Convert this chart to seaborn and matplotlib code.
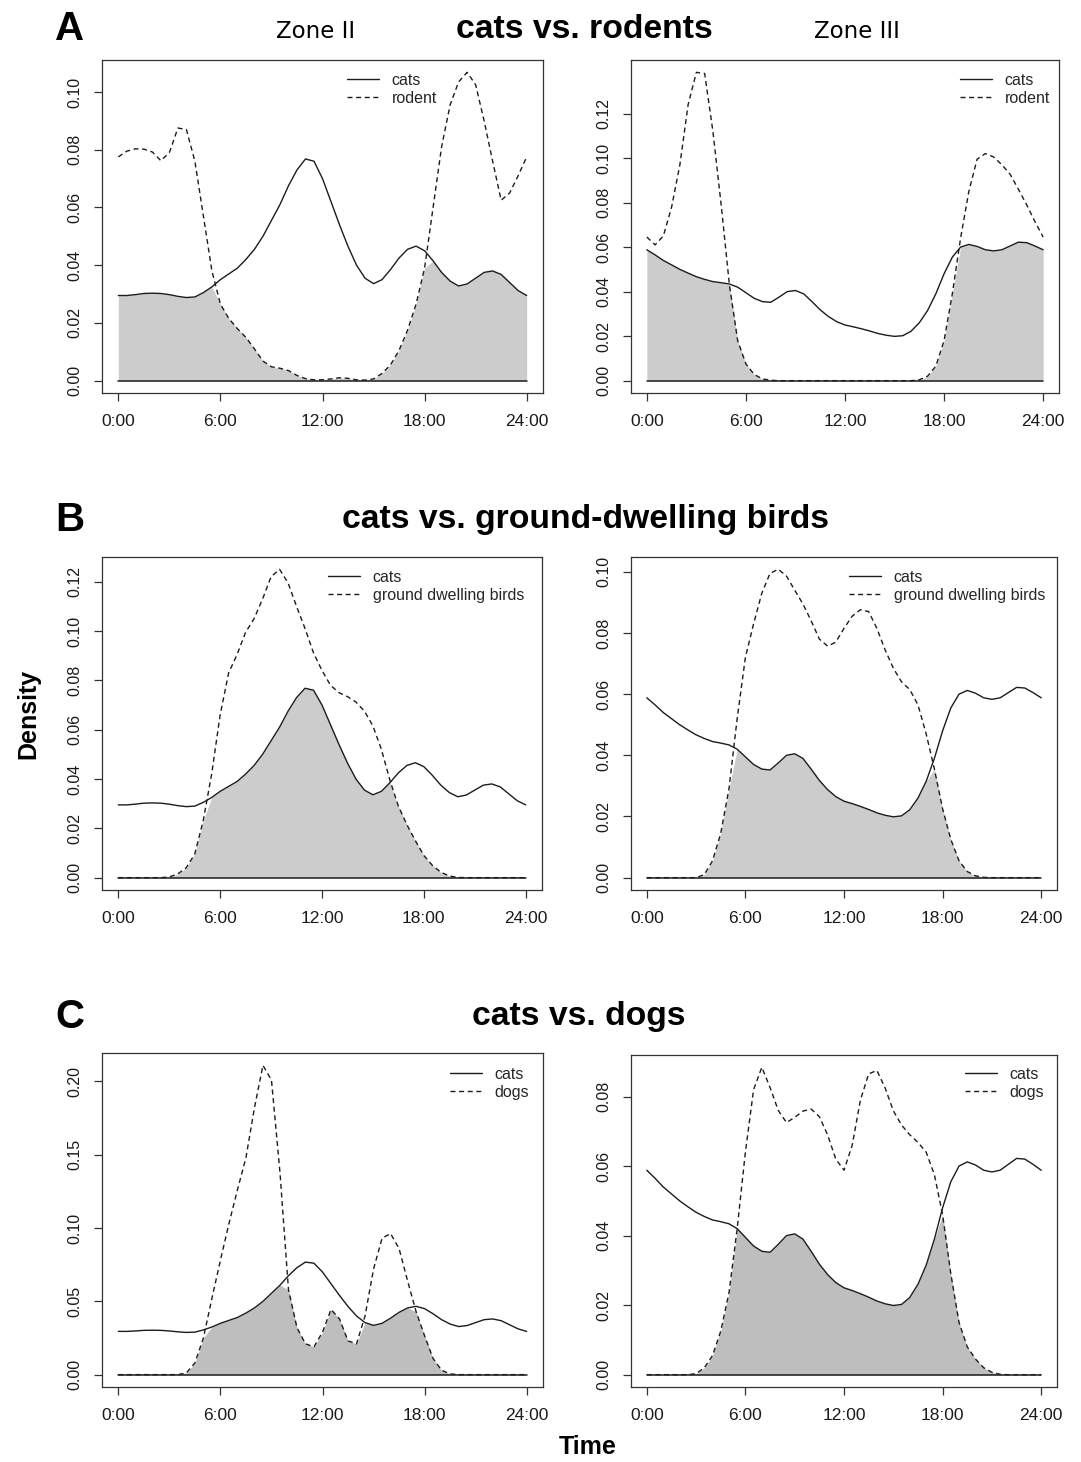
import matplotlib
matplotlib.use("Agg")
import matplotlib.pyplot as plt
import numpy as np
import pandas as pd
import seaborn as sns

W, H = 1081, 1462

# time grid (half-hour steps) and axis labels
hours = np.arange(0, 24.5, 0.5)
hour_ticks = [0, 6, 12, 18, 24]
hour_labels = ["0:00", "6:00", "12:00", "18:00", "24:00"]

# densities, one value per half hour (0:00 .. 24:00)
cats_z2 = [0.0295, 0.0295, 0.0298, 0.0302, 0.0303, 0.0302, 0.0298, 0.0292, 0.0288, 0.0290, 0.0305, 0.0325,
           0.0350, 0.0370, 0.0390, 0.0420, 0.0455, 0.0500, 0.0555, 0.0610, 0.0675, 0.0730, 0.0768, 0.0760,
           0.0700, 0.0620, 0.0540, 0.0465, 0.0400, 0.0355, 0.0336, 0.0350, 0.0385, 0.0425, 0.0455, 0.0466,
           0.0450, 0.0415, 0.0375, 0.0345, 0.0328, 0.0335, 0.0355, 0.0375, 0.0380, 0.0368, 0.0340, 0.0312,
           0.0295]
cats_z3 = [0.0588, 0.0565, 0.0540, 0.0520, 0.0500, 0.0483, 0.0467, 0.0455, 0.0445, 0.0440, 0.0434, 0.0420,
           0.0395, 0.0370, 0.0355, 0.0352, 0.0375, 0.0400, 0.0405, 0.0390, 0.0355, 0.0318, 0.0288, 0.0265,
           0.0250, 0.0242, 0.0233, 0.0223, 0.0212, 0.0204, 0.0199, 0.0202, 0.0222, 0.0260, 0.0315, 0.0390,
           0.0480, 0.0555, 0.0600, 0.0612, 0.0603, 0.0588, 0.0583, 0.0588, 0.0605, 0.0622, 0.0620, 0.0605,
           0.0588]
rodent_z2 = [0.0775, 0.0795, 0.0803, 0.0802, 0.0792, 0.0762, 0.0790, 0.0875, 0.0870, 0.0760, 0.0570, 0.0380,
             0.0265, 0.0215, 0.0180, 0.0150, 0.0110, 0.0068, 0.0048, 0.0043, 0.0035, 0.0018, 0.0007, 0.0003,
             0.0003, 0.0006, 0.0010, 0.0008, 0.0003, 0.0002, 0.0006, 0.0025, 0.0055, 0.0105, 0.0175, 0.0265,
             0.0390, 0.0600, 0.0810, 0.0955, 0.1035, 0.1068, 0.1025, 0.0900, 0.0760, 0.0625, 0.0650, 0.0710,
             0.0775]
rodent_z3 = [0.0645, 0.0610, 0.0650, 0.0780, 0.0970, 0.1240, 0.1385, 0.1380, 0.1120, 0.0790, 0.0430, 0.0180,
             0.0075, 0.0028, 0.0008, 0.0002, 0.0, 0.0, 0.0, 0.0, 0.0, 0.0, 0.0, 0.0,
             0.0, 0.0, 0.0, 0.0, 0.0, 0.0, 0.0, 0.0, 0.0, 0.0004, 0.0020, 0.0065,
             0.0180, 0.0390, 0.0640, 0.0850, 0.0995, 0.1020, 0.1005, 0.0970, 0.0927, 0.0860, 0.0790, 0.0715,
             0.0645]
birds_z2 = [0.0, 0.0, 0.0, 0.0, 0.0, 0.0, 0.0003, 0.0015, 0.0040, 0.0095, 0.0230, 0.0420,
            0.0660, 0.0830, 0.0905, 0.0995, 0.1050, 0.1130, 0.1220, 0.1250, 0.1195, 0.1100, 0.1010, 0.0911,
            0.0840, 0.0780, 0.0750, 0.0734, 0.0712, 0.0675, 0.0615, 0.0520, 0.0395, 0.0290, 0.0215, 0.0150,
            0.0090, 0.0050, 0.0022, 0.0007, 0.0001, 0.0, 0.0, 0.0, 0.0, 0.0, 0.0, 0.0,
            0.0]
birds_z3 = [0.0, 0.0, 0.0, 0.0, 0.0, 0.0, 0.0, 0.0010, 0.0055, 0.0145, 0.0290, 0.0520,
            0.0720, 0.0830, 0.0930, 0.0995, 0.1008, 0.0986, 0.0940, 0.0895, 0.0840, 0.0780, 0.0757, 0.0770,
            0.0815, 0.0855, 0.0876, 0.0870, 0.0815, 0.0745, 0.0685, 0.0640, 0.0615, 0.0565, 0.0470, 0.0355,
            0.0225, 0.0125, 0.0055, 0.0020, 0.0006, 0.0001, 0.0, 0.0, 0.0, 0.0, 0.0, 0.0,
            0.0]
dogs_z2 = [0.0, 0.0, 0.0, 0.0, 0.0, 0.0, 0.0, 0.0, 0.0012, 0.0080, 0.0250, 0.0520,
           0.0780, 0.1030, 0.1260, 0.1480, 0.1820, 0.2110, 0.2010, 0.1380, 0.0580, 0.0320, 0.0210, 0.0190,
           0.0290, 0.0445, 0.0380, 0.0230, 0.0210, 0.0400, 0.0720, 0.0930, 0.0963, 0.0860, 0.0640, 0.0430,
           0.0265, 0.0110, 0.0030, 0.0005, 0.0, 0.0, 0.0, 0.0, 0.0, 0.0, 0.0, 0.0,
           0.0]
dogs_z3 = [0.0, 0.0, 0.0, 0.0, 0.0, 0.0, 0.0003, 0.0020, 0.0055, 0.0125, 0.0235, 0.0420,
           0.0640, 0.0820, 0.0884, 0.0826, 0.0760, 0.0725, 0.0740, 0.0758, 0.0764, 0.0742, 0.0690, 0.0620,
           0.0588, 0.0660, 0.0790, 0.0865, 0.0875, 0.0825, 0.0759, 0.0718, 0.0690, 0.0668, 0.0640, 0.0575,
           0.0460, 0.0290, 0.0150, 0.0080, 0.0045, 0.0020, 0.0007, 0.0001, 0.0, 0.0, 0.0, 0.0,
           0.0]

LINE = "#1c1c1c"
FONT = ["Liberation Sans", "DejaVu Sans"]

sns.set_style("ticks")
plt.rcParams["font.family"] = FONT


def px_rect(x0, y0, x1, y1):
    return [x0 / W, 1 - y1 / H, (x1 - x0) / W, (y1 - y0) / H]


def draw_panel(ax, cats, other, other_label, ystep, fill, legend_xy):
    df = pd.DataFrame({"hour": hours, "cats": cats, "other": other})
    ymax = max(df["cats"].max(), df["other"].max())

    # overlap area
    ax.fill_between(df["hour"], 0, np.minimum(df["cats"], df["other"]),
                    color=fill, lw=0, zorder=1)
    sns.lineplot(data=df, x="hour", y="cats", ax=ax, color=LINE, lw=1.0,
                 errorbar=None, legend=False, zorder=3)
    sns.lineplot(data=df, x="hour", y="other", ax=ax, color=LINE, lw=1.0,
                 linestyle=(0, (3.6, 2.6)), errorbar=None, legend=False, zorder=3)
    # solid baseline drawn on top, as in the original
    ax.plot([hours[0], hours[-1]], [0, 0], color=LINE, lw=1.1, zorder=4)

    ax.set_xlim(-0.96, 24.96)
    ax.set_ylim(-0.04 * ymax, 1.04 * ymax)
    ax.set_xticks(hour_ticks)
    ax.set_xticklabels(hour_labels)
    yt = np.arange(0, ymax + 1e-9, ystep)
    ax.set_yticks(yt)
    ax.set_yticklabels([f"{v:.2f}" for v in yt])
    ax.set_xlabel("")
    ax.set_ylabel("")

    for sp in ax.spines.values():
        sp.set_visible(True)
        sp.set_color("#333333")
        sp.set_linewidth(0.9)
    ax.tick_params(axis="both", direction="out", length=6, width=0.9,
                   color="#333333", labelcolor="#1a1a1a")
    ax.tick_params(axis="x", pad=9, labelsize=12.5)
    ax.tick_params(axis="y", pad=8, labelsize=11.5, labelrotation=90)
    for lbl in ax.get_yticklabels():
        lbl.set_va("center")

    lx, ly = legend_xy
    ax.legend(handles=ax.lines[:2], labels=["cats", other_label],
              loc="upper left", bbox_to_anchor=(lx / W, 1 - ly / H),
              bbox_transform=ax.figure.transFigure, frameon=False,
              fontsize=11.5, borderpad=0, borderaxespad=0,
              handlelength=2.0, handletextpad=0.8, labelspacing=0.18)


fig = plt.figure(figsize=(W / 100, H / 100), dpi=100)

panels = [
    # cats, other, label, y step, fill, axes box (px), legend top-left (px)
    (cats_z2, rodent_z2, "rodent", 0.02, "#cccccc", (102, 60, 543, 393), (347, 73)),
    (cats_z3, rodent_z3, "rodent", 0.02, "#cccccc", (631, 60, 1059, 393), (960, 73)),
    (cats_z2, birds_z2, "ground dwelling birds", 0.02, "#cccccc", (102, 557, 542, 890), (328, 570)),
    (cats_z3, birds_z3, "ground dwelling birds", 0.02, "#cccccc", (631, 557, 1057, 890), (849, 570)),
    (cats_z2, dogs_z2, "dogs", 0.05, "#bebebe", (102, 1053, 543, 1387), (450, 1067)),
    (cats_z3, dogs_z3, "dogs", 0.02, "#bebebe", (631, 1055, 1057, 1387), (965, 1067)),
]

for cats, other, label, ystep, fill, box, leg in panels:
    ax = fig.add_axes(px_rect(*box))
    draw_panel(ax, cats, other, label, ystep, fill, leg)


def ftext(x, y, s, **kw):
    fig.text(x / W, 1 - y / H, s, ha="center", va="center", color="black", **kw)


for letter, y in [("A", 29), ("B", 520), ("C", 1017)]:
    ftext(70, y, letter, fontsize=29, fontweight="bold")

ftext(584, 30, "cats vs. rodents", fontsize=24.3, fontweight="bold")
ftext(586, 520, "cats vs. ground-dwelling birds", fontsize=24.3, fontweight="bold")
ftext(579, 1017, "cats vs. dogs", fontsize=24.3, fontweight="bold")
ftext(316, 32, "Zone II", fontsize=16.5, family=["DejaVu Sans"])
ftext(857, 32, "Zone III", fontsize=16.5, family=["DejaVu Sans"])
ftext(28, 714, "Density", fontsize=18, fontweight="bold", rotation=90)
ftext(588, 1447, "Time", fontsize=18, fontweight="bold")

fig.savefig("out.png", dpi=100)
plt.close(fig)
